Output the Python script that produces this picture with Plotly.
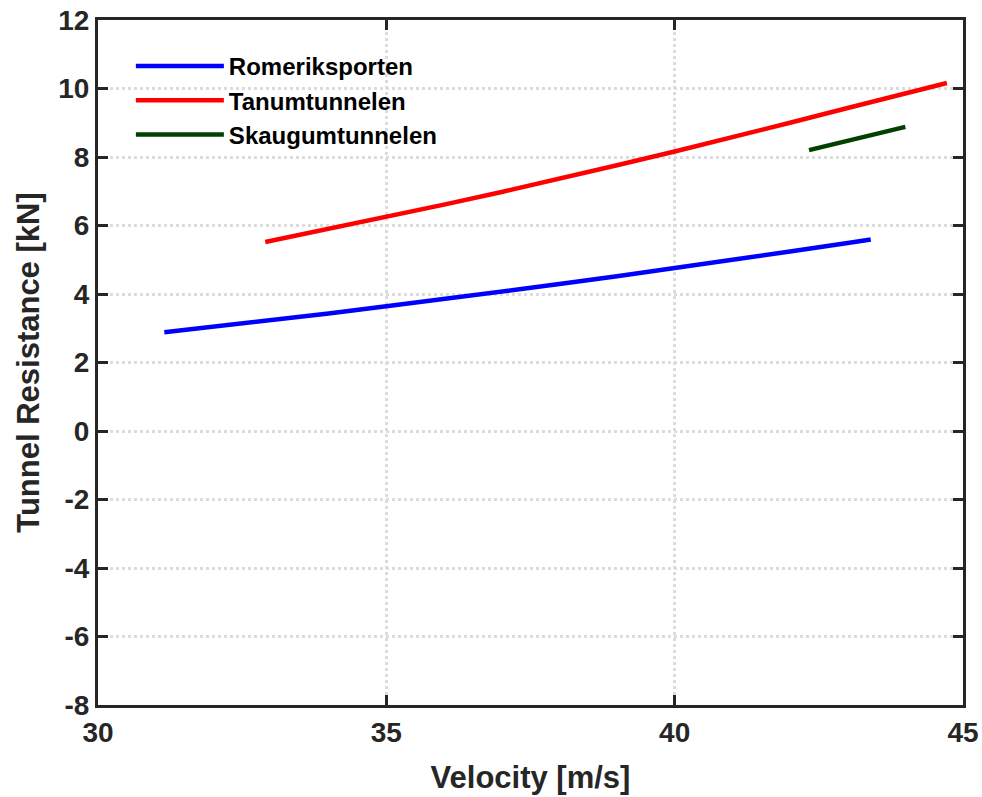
import plotly.graph_objects as go

# Data
romerik_v = [31.15, 32, 33, 34, 35, 36, 37, 38, 39, 40, 41, 42, 43, 43.4]
romerik_r = [2.88, 3.04, 3.23, 3.43, 3.64, 3.85, 4.07, 4.29, 4.52, 4.75, 4.99, 5.24, 5.49, 5.59]

tanum_v = [32.9, 34, 35, 36, 37, 38, 39, 40, 41, 42, 43, 44, 44.72]
tanum_r = [5.52, 5.90, 6.25, 6.61, 6.98, 7.36, 7.76, 8.16, 8.57, 9.00, 9.43, 9.87, 10.16]

skaugum_v = [42.33, 43, 44]
skaugum_r = [8.2, 8.47, 8.88]

names = ["Romeriksporten", "Tanumtunnelen", "Skaugumtunnelen"]
colors = ["#0000ff", "#ff0000", "#004000"]

x_ticks = [30, 35, 40, 45]
x_ticktext = ["30", "35", "40", "45"]
y_ticks = list(range(-8, 13, 2))
y_ticktext = [str(v) for v in y_ticks]

FONT = "Liberation Sans, Arial, sans-serif"
DARK = "#262626"

fig = go.Figure()
for v, r, n, c in zip([romerik_v, tanum_v, skaugum_v],
                      [romerik_r, tanum_r, skaugum_r], names, colors):
    fig.add_trace(go.Scatter(x=v, y=r, mode="lines", name=n,
                             line=dict(color=c, width=4.5)))

axis_common = dict(
    showline=True, linecolor=DARK, linewidth=3, mirror="ticks",
    ticks="inside", ticklen=10, tickwidth=3, tickcolor=DARK,
    showgrid=True, gridcolor="#dcdcdc", gridwidth=3, griddash="dot",
    zeroline=False, automargin=False,
    tickfont=dict(family=FONT, size=28, color=DARK, weight="bold"),
)

fig.update_layout(
    width=982, height=797,
    margin=dict(l=98, r=19, t=20, b=92),
    paper_bgcolor="white", plot_bgcolor="white",
    font=dict(family=FONT, color=DARK),
    xaxis=dict(range=[30, 45], tickvals=x_ticks, ticktext=x_ticktext,
               title=dict(text="Velocity [m/s]", font=dict(family=FONT, size=31, color=DARK, weight="bold"), standoff=20),
               **axis_common),
    yaxis=dict(range=[-8, 12], tickvals=y_ticks, ticktext=y_ticktext,
               title=dict(text="Tunnel Resistance [kN]", font=dict(family=FONT, size=31, color=DARK, weight="bold"), standoff=10),
               **axis_common),
    legend=dict(x=0.038, y=0.965, xanchor="left", yanchor="top",
                bgcolor="rgba(0,0,0,0)", borderwidth=0,
                itemwidth=88, tracegroupgap=0,
                font=dict(family=FONT, size=24, color="black", weight="bold")),
    showlegend=True,
)

fig.write_html("out.html", config={"displayModeBar": False},
               post_script="document.body.style.margin='0';")
